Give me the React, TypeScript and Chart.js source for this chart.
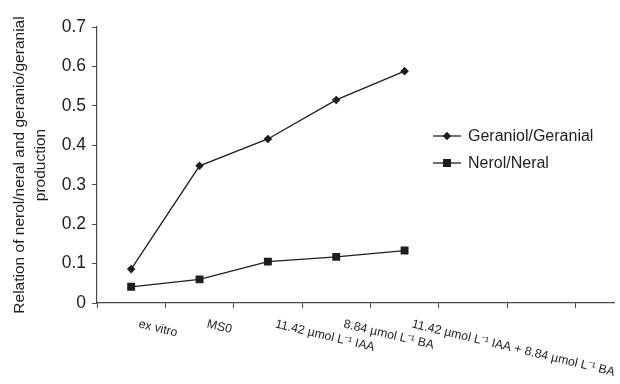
import React, { useEffect, useRef } from "react";
import { Chart, registerables } from "chart.js";

Chart.register(...registerables);

const categories = [
  "ex vitro",
  "MS0",
  "11.42 µmol L⁻¹ IAA",
  "8.84 µmol L⁻¹ BA",
  "11.42 µmol L⁻¹ IAA + 8.84 µmol L⁻¹ BA",
];
const geraniolGeranial = [0.086, 0.348, 0.416, 0.515, 0.588];
const nerolNeral = [0.041, 0.06, 0.105, 0.117, 0.133];
const seriesNames = ["Geraniol/Geranial", "Nerol/Neral"];
const yTitle = ["Relation of nerol/neral and geranio/geranial", "production"];

const FONT = "'Liberation Sans', Arial, Helvetica, sans-serif";
const INK = "#1e1e1e";
const AXIS = "#4a4a4a";

const overlay = {
  id: "overlay",
  afterDraw(chart: any) {
    const ctx = chart.ctx;
    const xs = chart.scales.x;
    const area = chart.chartArea;
    ctx.save();
    // x category labels, rotated clockwise
    ctx.fillStyle = INK;
    ctx.font = `12.3px ${FONT}`;
    ctx.textAlign = "left";
    ctx.textBaseline = "top";
    categories.forEach((c, i) => {
      const px = xs.getPixelForValue(i) + 9;
      const py = area.bottom + 15;
      ctx.save();
      ctx.translate(px, py);
      ctx.rotate((13.5 * Math.PI) / 180);
      ctx.fillText(c, 0, 0);
      ctx.restore();
    });
    // legend
    const lx = 433;
    const rows = [136, 163];
    chart.data.datasets.forEach((ds: any, i: number) => {
      const y = rows[i];
      ctx.strokeStyle = INK;
      ctx.lineWidth = 1.3;
      ctx.beginPath();
      ctx.moveTo(lx, y);
      ctx.lineTo(lx + 28, y);
      ctx.stroke();
      ctx.fillStyle = INK;
      const cx = lx + 14;
      ctx.beginPath();
      if (ds.pointStyle === "rectRot") {
        const r = 4.2;
        ctx.moveTo(cx, y - r);
        ctx.lineTo(cx + r, y);
        ctx.lineTo(cx, y + r);
        ctx.lineTo(cx - r, y);
        ctx.closePath();
      } else {
        ctx.rect(cx - 4, y - 4, 8, 8);
      }
      ctx.fill();
      ctx.font = `16px ${FONT}`;
      ctx.textAlign = "left";
      ctx.textBaseline = "middle";
      ctx.fillText(ds.label, lx + 35, y + 1);
    });
    ctx.restore();
  },
};

export default function App() {
  const ref = useRef<HTMLCanvasElement>(null);
  useEffect(() => {
    document.body.style.margin = "0";
    const ctx = ref.current!.getContext("2d")!;
    const chart = new Chart(ctx, {
      type: "line",
      data: {
        datasets: [
          {
            label: seriesNames[0],
            data: geraniolGeranial.map((v, i) => ({ x: i, y: v })),
            borderColor: INK,
            backgroundColor: INK,
            borderWidth: 1.3,
            pointStyle: "rectRot",
            pointRadius: 4.3,
            pointBorderWidth: 0,
            tension: 0,
          },
          {
            label: seriesNames[1],
            data: nerolNeral.map((v, i) => ({ x: i, y: v })),
            borderColor: INK,
            backgroundColor: INK,
            borderWidth: 1.3,
            pointStyle: "rect",
            pointRadius: 5.6,
            pointBorderWidth: 0,
            tension: 0,
          },
        ],
      },
      options: {
        animation: false,
        responsive: false,
        events: [],
        layout: { padding: { left: 0, top: 27, right: 0, bottom: 0 } },
        plugins: {
          legend: { display: false },
          tooltip: { enabled: false },
        },
        scales: {
          x: {
            type: "linear",
            min: -0.5,
            max: 7.07,
            afterBuildTicks: (s: any) => {
              s.ticks = [-0.5, 0.5, 1.5, 2.5, 3.5, 4.5, 5.5, 6.5].map((v) => ({ value: v }));
            },
            afterFit: (s: any) => {
              s.height = 81;
            },
            ticks: { display: false },
            grid: {
              display: true,
              drawOnChartArea: false,
              drawTicks: true,
              tickLength: 5,
              color: AXIS,
              lineWidth: 1,
            },
            border: { display: true, color: AXIS, width: 1.2 },
          },
          y: {
            min: 0,
            max: 0.7,
            afterBuildTicks: (s: any) => {
              s.ticks = [0, 0.1, 0.2, 0.3, 0.4, 0.5, 0.6, 0.7].map((v) => ({ value: v }));
            },
            afterFit: (s: any) => {
              s.width = 97;
            },
            ticks: {
              color: INK,
              font: { family: FONT, size: 17.5 },
              padding: 6,
              callback: (v: any) => String(Number(Number(v).toFixed(1))),
            },
            grid: {
              display: true,
              drawOnChartArea: false,
              drawTicks: true,
              tickLength: 5,
              color: AXIS,
              lineWidth: 1,
            },
            border: { display: true, color: AXIS, width: 1.2 },
            title: {
              display: true,
              text: yTitle,
              color: INK,
              font: { family: FONT, size: 15.5, lineHeight: 1.3 },
              padding: { top: 10, bottom: 0 },
            },
          },
        },
      },
      plugins: [overlay],
    });
    return () => chart.destroy();
  }, []);
  return (
    <div style={{ position: "fixed", left: 0, top: 0, width: 620, height: 384, background: "#fff" }}>
      <canvas ref={ref} width={620} height={384} style={{ width: 620, height: 384, display: "block" }} />
    </div>
  );
}
